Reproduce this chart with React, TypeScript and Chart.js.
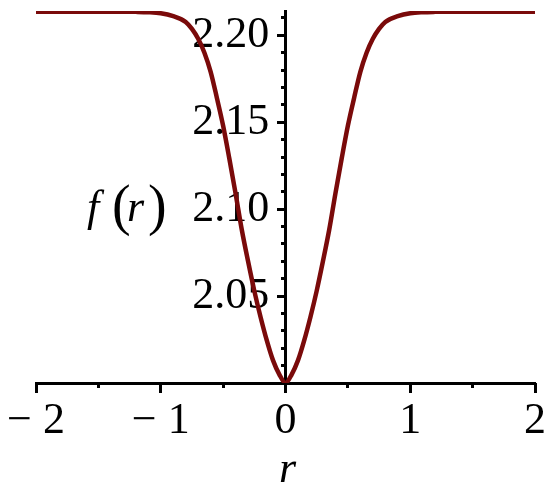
import React, { useEffect, useRef } from "react";
import { Chart, registerables } from "chart.js";

Chart.register(...registerables);

const rValues = [
  -2.0, -1.8, -1.6, -1.4, -1.2, -1.1, -1.0, -0.9, -0.8, -0.75, -0.7, -0.65, -0.6,
  -0.55, -0.5, -0.45, -0.4, -0.35, -0.3, -0.25, -0.2, -0.15, -0.1, -0.05, 0.0,
  0.05, 0.1, 0.15, 0.2, 0.25, 0.3, 0.35, 0.4, 0.45, 0.5, 0.55, 0.6, 0.65, 0.7,
  0.75, 0.8, 0.9, 1.0, 1.1, 1.2, 1.4, 1.6, 1.8, 2.0,
];
const fValues = [
  2.2136, 2.2136, 2.2136, 2.2136, 2.2135, 2.2133, 2.2127, 2.211, 2.2077, 2.2037,
  2.198, 2.19, 2.179, 2.164, 2.148, 2.129, 2.109, 2.088, 2.07, 2.053, 2.038,
  2.0245, 2.013, 2.005, 2.0, 2.005, 2.013, 2.0245, 2.038, 2.053, 2.07, 2.088,
  2.109, 2.129, 2.148, 2.164, 2.179, 2.19, 2.198, 2.2037, 2.2077, 2.211, 2.2127,
  2.2133, 2.2135, 2.2136, 2.2136, 2.2136, 2.2136,
];

const xMin = -2;
const xMax = 2;
const yMin = 2.0;
const yMax = 2.214;
const xMajorStep = 1;
const xMinorStep = 0.5;
const yMajorStep = 0.05;
const yMinorStep = 0.01;

const xTitle = "r";
const yTitleParts = ["f", "(", "r", ")"];

const SERIF = "'Liberation Serif', 'Times New Roman', serif";

const titlePlugin = {
  id: "mapleTitles",
  afterDraw(chart: any) {
    const ctx = chart.ctx;
    const area = chart.chartArea;
    ctx.save();
    ctx.fillStyle = "#000";
    ctx.textBaseline = "alphabetic";
    // x-axis title
    ctx.font = `italic 44px ${SERIF}`;
    ctx.textAlign = "center";
    const xs = chart.scales.x;
    ctx.fillText(xTitle, xs.getPixelForValue(0) + 2, area.bottom + 99);
    // y-axis title f(r)
    const baseY = 221;
    const left = area.left + 51;
    ctx.textAlign = "left";
    ctx.font = `italic 44px ${SERIF}`;
    ctx.fillText(yTitleParts[0], left, baseY);
    ctx.font = `56px ${SERIF}`;
    ctx.fillText(yTitleParts[1], left + 25, baseY + 3);
    ctx.font = `italic 44px ${SERIF}`;
    ctx.fillText(yTitleParts[2], left + 40, baseY);
    ctx.font = `56px ${SERIF}`;
    ctx.fillText(yTitleParts[3], left + 61, baseY + 3);
    ctx.restore();
  },
};

const isMult = (v: number, step: number) =>
  Math.abs(v / step - Math.round(v / step)) < 1e-6;

const tickGrid = (len: number) => ({
  drawOnChartArea: false,
  drawTicks: true,
  tickLength: len,
  tickWidth: 3,
  tickColor: "#000",
});

export default function App() {
  const ref = useRef<HTMLCanvasElement | null>(null);
  useEffect(() => {
    document.body.style.margin = "0";
    const canvas = ref.current;
    if (!canvas) return;
    const points = rValues.map((r, i) => ({ x: r, y: fValues[i] }));
    const chart = new Chart(canvas, {
      type: "scatter",
      data: {
        datasets: [
          {
            data: points,
            showLine: true,
            borderColor: "#7a0a0a",
            borderWidth: 4.5,
            pointRadius: 0,
            cubicInterpolationMode: "monotone",
            xAxisID: "x",
            yAxisID: "y",
          },
        ],
      },
      options: {
        animation: false,
        responsive: false,
        maintainAspectRatio: false,
        layout: { padding: { left: 36, right: 15, top: 10, bottom: 103 } },
        plugins: {
          legend: { display: false },
          tooltip: { enabled: false },
          title: { display: false },
        },
        scales: {
          x: {
            type: "linear",
            position: { y: yMin },
            min: xMin,
            max: xMax,
            border: { display: true, color: "#000", width: 3 },
            grid: tickGrid(8),
            ticks: {
              stepSize: xMajorStep,
              includeBounds: false,
              autoSkip: false,
              maxRotation: 0,
              padding: 4,
              color: "#000",
              font: { family: SERIF, size: 44, lineHeight: 1.2 },
              callback: (v: any) => {
                const n = Number(v);
                if (Math.abs(n) < 1e-9) return "0";
                return n < 0 ? "\u2212 " + Math.abs(n).toFixed(0) : n.toFixed(0);
              },
            },
          },
          xMinor: {
            type: "linear",
            position: { y: yMin },
            min: xMin,
            max: xMax,
            border: { display: false },
            grid: tickGrid(5),
            ticks: {
              stepSize: xMinorStep,
              includeBounds: false,
              autoSkip: false,
              maxRotation: 0,
              padding: 0,
              font: { size: 1 },
              callback: () => "",
            },
          },
          y: {
            type: "linear",
            position: { x: 0 },
            min: yMin,
            max: yMax,
            border: { display: true, color: "#000", width: 3 },
            grid: tickGrid(7),
            ticks: {
              stepSize: yMajorStep,
              includeBounds: false,
              autoSkip: false,
              padding: 0,
              font: { size: 1 },
              callback: () => "",
            },
          },
          yMinor: {
            type: "linear",
            position: { x: 0 },
            min: yMin,
            max: yMax,
            border: { display: false },
            grid: tickGrid(5),
            ticks: {
              stepSize: yMinorStep,
              includeBounds: false,
              autoSkip: false,
              padding: 0,
              font: { size: 1 },
              callback: () => "",
            },
          },
          yLabels: {
            type: "linear",
            position: { x: -0.13 },
            min: yMin,
            max: yMax,
            border: { display: false },
            grid: { display: false, drawTicks: false },
            ticks: {
              stepSize: yMajorStep,
              includeBounds: false,
              autoSkip: false,
              padding: 0,
              color: "#000",
              font: { family: SERIF, size: 44, lineHeight: 0.5 },
              callback: (v: any) => {
                const n = Number(v);
                if (Math.abs(n - yMin) < 1e-9) return "";
                return isMult(n, yMajorStep) ? n.toFixed(2) : "";
              },
            },
          },
        },
      } as any,
      plugins: [titlePlugin],
    });
    return () => chart.destroy();
  }, []);
  return <canvas ref={ref} width={550} height={486} style={{ display: "block" }} />;
}
